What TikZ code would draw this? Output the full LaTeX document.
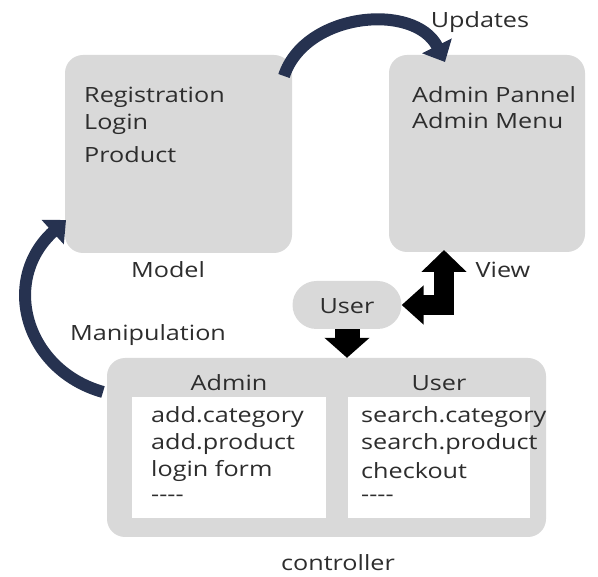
\documentclass[tikz,border=0pt]{standalone}
\usepackage{fontspec}
\setmainfont[FakeStretch=1.2]{Open Sans}
\usetikzlibrary{positioning, arrows.meta}

\definecolor{boxgray}{RGB}{217,217,217}
\definecolor{arcnavy}{RGB}{38,50,80}
\definecolor{inkgray}{RGB}{45,45,45}

\begin{document}
\begin{tikzpicture}[x=1pt, y=-1pt,
    panel/.style={fill=boxgray, rounded corners=18pt, inner sep=0pt},
    listbox/.style={fill=white, inner sep=0pt},
    txt/.style={font=\fontsize{21}{24}\selectfont, text=inkgray, inner sep=0pt},
    blockarrow/.style={draw=black, line width=20pt, line join=miter},
    bendarrow/.style={draw=arcnavy, line width=12pt, -{Triangle[width=32pt,length=18pt]}}]
    \useasboundingbox (0,0) rectangle (598,577);

    % Draw the three panels
    \node[panel, minimum width=227pt, minimum height=198pt] (model) at (178.5,154) {};
    \node[panel, minimum width=196pt, minimum height=197pt] (view) at (487,153.5) {};
    \node[panel, minimum width=439pt, minimum height=179pt] (ctrl) at (326.5,447.5) {};
    \node[listbox, minimum width=194pt, minimum height=121pt] (adminlist) at (229,457.5) {};
    \node[listbox, minimum width=182pt, minimum height=121pt] (userlist) at (439,457.5) {};
    \node[panel, rounded corners=24pt, minimum width=109pt, minimum height=48pt] (user) at (347,305) {};
    \node[txt] (usertxt) at (347,306) {User};

    % Panel captions
    \node[txt] (modelcap) at (168,270) {Model};
    \node[txt] (viewcap) at (503,270) {View};
    \node[txt] (ctrlcap) at (338,563) {controller};
    \node[txt] (updcap) at (480,22) {Updates};
    \node[txt] (mancap) at (148,335) {Manipulation};
    \node[txt] (admincap) at (229,383) {Admin};
    \node[txt] (usercap) at (439,383) {User};

    % Text inside model and view
    \foreach \y/\t in {97/Registration, 124/Login, 155/Product} {
      \node[txt, anchor=west] at (84,\y) {\t};
    }
    \foreach \y/\t in {95/Admin Pannel, 121/Admin Menu} {
      \node[txt, anchor=west] at (412,\y) {\t};
    }

    % Lists in the controller
    \foreach \y/\a/\u in {417/add.category/search.category, 444/add.product/search.product, 471/login form/checkout, 498/{-}{-}{-}{-}/{-}{-}{-}{-}} {
      \node[txt, anchor=west] at (151,\y) {\a};
      \node[txt, anchor=west] at (361,\y) {\u};
    }

    % Curved arrows
    \coordinate (updstart) at (284,76);
    \coordinate (updend) at (445,62);
    \draw[bendarrow] (updstart) .. controls (305,12) and (415,2) .. (updend);
    \coordinate (manstart) at (103,392);
    \coordinate (manend) at (66,220);
    \draw[bendarrow] (manstart) .. controls (25,370) and (0,280) .. (manend);

    % Block arrows
    \coordinate (viewin) at (444,250);
    \draw[blockarrow, {Triangle[width=38pt,length=22pt]}-{Triangle[width=44pt,length=22pt]}] (user.east) -| (viewin);
    \draw[blockarrow, line width=25pt, -{Triangle[width=44pt,length=20pt]}] (user.south) -- (user.south |- ctrl.north);
\end{tikzpicture}
\end{document}
